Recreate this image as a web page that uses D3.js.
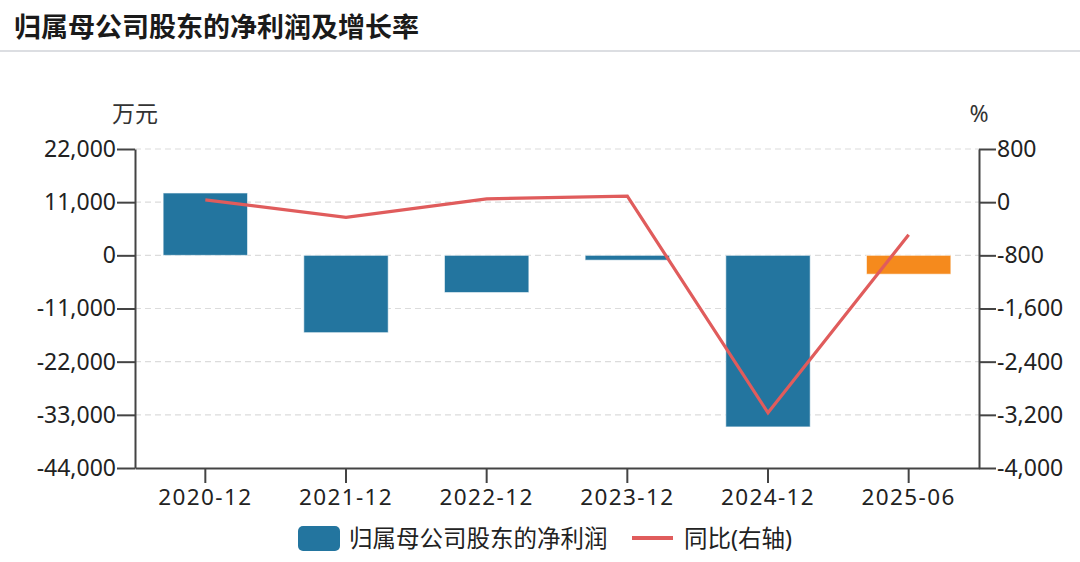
<!DOCTYPE html>
<html>
<head>
<meta charset="utf-8">
<script src="https://cdn.jsdelivr.net/npm/d3@7"></script>
<style>
  html, body { margin: 0; padding: 0; background: #fff; }
  svg { display: block; }
</style>
</head>
<body>
<svg id="chart" width="1080" height="562"></svg>
<script>
const title = "归属母公司股东的净利润及增长率";
const categories = ["2020-12", "2021-12", "2022-12", "2023-12", "2024-12", "2025-06"];
const netProfit = [12900, -16000, -7700, -1000, -35500, -3900];
const yoyGrowth = [35, -230, 50, 90, -3170, -490];
const leftTicks = [22000, 11000, 0, -11000, -22000, -33000, -44000];
const rightTicks = [800, 0, -800, -1600, -2400, -3200, -4000];
const leftUnit = "万元";
const rightUnit = "%";
const legendLabels = ["归属母公司股东的净利润", "同比(右轴)"];

(function () {
const svg = d3.select("#chart");
const W = 1080, H = 562;
const pLeft = 135, pRight = 979, pTop = 149, pBottom = 468;
const fontFam = "'Noto Sans', 'Noto Sans CJK SC', sans-serif";
const blue = "#23759f", orange = "#f58a1d", red = "#e05c5c", axisCol = "#444";
const fmt = d3.formatLocale({decimal: ".", thousands: ",", grouping: [3], currency: ["", ""], minus: "-"}).format(",");

svg.append("rect").attr("width", W).attr("height", H).attr("fill", "#fff");

// Title
svg.append("text")
  .attr("x", 14).attr("y", 25)
  .attr("dominant-baseline", "central")
  .attr("font-family", "'Noto Sans CJK SC', sans-serif")
  .attr("font-weight", "bold")
  .attr("font-size", 27)
  .attr("fill", "#1a1a1a")
  .text(title);
svg.append("line")
  .attr("x1", 0).attr("x2", W).attr("y1", 51).attr("y2", 51)
  .attr("stroke", "#d0d3d8").attr("stroke-width", 1.5);

const x = d3.scaleBand().domain(categories).range([pLeft, pRight]).paddingInner(0.4).paddingOuter(0.2);
const yL = d3.scaleLinear().domain([-44000, 22000]).range([pBottom, pTop]);
const yR = d3.scaleLinear().domain([-4000, 800]).range([pBottom, pTop]);

// Grid
svg.append("g").selectAll("line")
  .data(leftTicks.filter(d => d !== -44000))
  .join("line")
  .attr("x1", pLeft).attr("x2", pRight)
  .attr("y1", d => yL(d)).attr("y2", d => yL(d))
  .attr("stroke", "#dcdcdc").attr("stroke-width", 1.2)
  .attr("stroke-dasharray", "6,4");

// Bars
svg.append("g").selectAll("rect")
  .data(categories.map((c, i) => ({c, v: netProfit[i], i})))
  .join("rect")
  .attr("x", d => x(d.c))
  .attr("width", x.bandwidth())
  .attr("y", d => yL(Math.max(0, d.v)))
  .attr("height", d => Math.abs(yL(d.v) - yL(0)))
  .attr("fill", d => d.i === categories.length - 1 ? orange : blue)
  .attr("stroke", "rgba(255,255,255,0.6)")
  .attr("stroke-width", 1);

// Line
const line = d3.line()
  .x((d, i) => x(categories[i]) + x.bandwidth() / 2)
  .y(d => yR(d));
svg.append("path")
  .datum(yoyGrowth)
  .attr("d", line)
  .attr("fill", "none")
  .attr("stroke", red)
  .attr("stroke-width", 3.2)
  .attr("stroke-linejoin", "miter");

function styleAxis(g, size, ls) {
  g.selectAll(".domain").attr("stroke", axisCol).attr("stroke-width", 2);
  g.selectAll(".tick line").attr("stroke", axisCol).attr("stroke-width", 2);
  g.selectAll(".tick text").attr("fill", "#222").attr("font-size", size)
    .attr("font-family", fontFam).attr("letter-spacing", ls || 0);
}

// Axes
const gL = svg.append("g").attr("transform", `translate(${pLeft},0)`)
  .call(d3.axisLeft(yL).tickValues(leftTicks).tickFormat(fmt).tickSize(18).tickSizeOuter(0).tickPadding(1));
styleAxis(gL, 23);
const gR = svg.append("g").attr("transform", `translate(${pRight},0)`)
  .call(d3.axisRight(yR).tickValues(rightTicks).tickFormat(fmt).tickSize(17).tickSizeOuter(0).tickPadding(1));
styleAxis(gR, 23);
const gX = svg.append("g").attr("transform", `translate(0,${pBottom})`)
  .call(d3.axisBottom(x).tickSize(15).tickSizeOuter(0).tickPadding(6));
styleAxis(gX, 22.5, 1.4);

// Units
svg.append("text").attr("x", pLeft).attr("y", 113).attr("text-anchor", "middle")
  .attr("dominant-baseline", "central")
  .attr("font-family", fontFam).attr("font-size", 23).attr("fill", "#333").text(leftUnit);
svg.append("text").attr("x", pRight).attr("y", 113).attr("text-anchor", "middle")
  .attr("dominant-baseline", "central")
  .attr("font-family", fontFam).attr("font-size", 23).attr("fill", "#333").text(rightUnit);

// Legend
const lg = svg.append("g");
lg.append("rect").attr("x", 298).attr("y", 526).attr("width", 42).attr("height", 25).attr("rx", 5).attr("fill", blue);
lg.append("text").attr("x", 349).attr("y", 538).attr("dominant-baseline", "central")
  .attr("font-family", fontFam).attr("font-size", 23.5).attr("fill", "#222").text(legendLabels[0]);
lg.append("line").attr("x1", 632).attr("x2", 673).attr("y1", 538).attr("y2", 538)
  .attr("stroke", red).attr("stroke-width", 4);
lg.append("text").attr("x", 684).attr("y", 538).attr("dominant-baseline", "central")
  .attr("font-family", fontFam).attr("font-size", 23.5).attr("fill", "#222").text(legendLabels[1]);
})();
</script>
</body>
</html>
